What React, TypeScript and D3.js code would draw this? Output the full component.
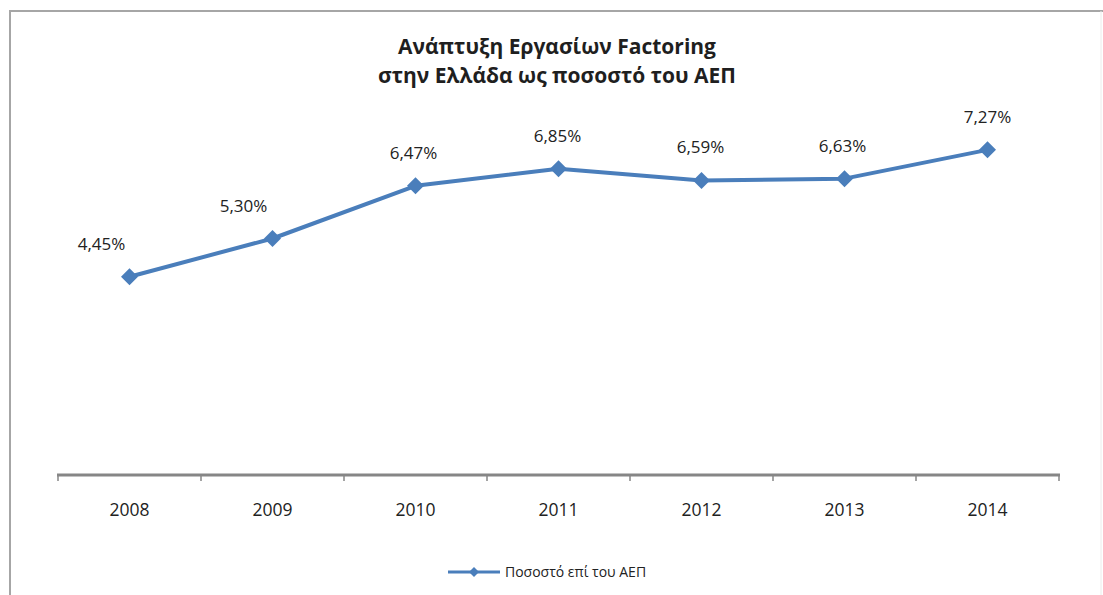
import React from "react";
import * as d3 from "d3";

const years = ["2008", "2009", "2010", "2011", "2012", "2013", "2014"];
const values = [4.45, 5.3, 6.47, 6.85, 6.59, 6.63, 7.27];
const labels = ["4,45%", "5,30%", "6,47%", "6,85%", "6,59%", "6,63%", "7,27%"];
const labelShift = [-28, -29, -2, -1, -1, -2, 0];
const titleLines = ["Ανάπτυξη Εργασίων Factoring", "στην Ελλάδα ως ποσοστό του ΑΕΠ"];
const legendLabel = "Ποσοστό επί του ΑΕΠ";

const W = 1103;
const H = 595;
const color = "#4A7EBB";
const font = "'Open Sans', 'DejaVu Sans', sans-serif";
const AXIS_Y = 475;

export default function App() {
  const x = d3.scaleBand<string>().domain(years).range([58, 1059]);
  const y = d3.scaleLinear().domain([0, 8]).range([477, 117]);
  const line = d3
    .line<number>()
    .x((_, i) => (x(years[i]) as number) + x.bandwidth() / 2)
    .y((d) => y(d));
  const diamond = (cx: number, cy: number, r: number) =>
    `M${cx},${cy - r}L${cx + r},${cy}L${cx},${cy + r}L${cx - r},${cy}Z`;
  const ticks = d3.range(years.length + 1).map((i) => 58 + i * x.step());

  return (
    <svg
      width={W}
      height={H}
      style={{ position: "absolute", left: 0, top: 0, background: "#fff" }}
    >
      <line x1={10} x2={W} y1={11} y2={11} stroke="#a6a6a6" strokeWidth={2} />
      <line x1={10} x2={10} y1={10} y2={H} stroke="#a6a6a6" strokeWidth={2} />
      <line x1={1101} x2={1101} y1={11} y2={H} stroke="#ececec" strokeWidth={1} />
      {titleLines.map((t, i) => (
        <text
          key={i}
          x={557}
          y={54 + i * 29}
          textAnchor="middle"
          fontFamily={font}
          fontWeight="bold"
          fontSize={21}
          fill="#1f1f1f"
        >
          {t}
        </text>
      ))}
      <line x1={57} x2={1060} y1={AXIS_Y} y2={AXIS_Y} stroke="#868686" strokeWidth={3} />
      {ticks.map((t, i) => (
        <line key={i} x1={t} x2={t} y1={AXIS_Y} y2={AXIS_Y + 6} stroke="#868686" strokeWidth={1.5} />
      ))}
      {years.map((yr) => (
        <text
          key={yr}
          x={(x(yr) as number) + x.bandwidth() / 2}
          y={516}
          textAnchor="middle"
          fontFamily={font}
          fontSize={17.5}
          fill="#222"
        >
          {yr}
        </text>
      ))}
      <path d={line(values) || ""} fill="none" stroke={color} strokeWidth={4} strokeLinejoin="round" />
      {values.map((v, i) => {
        const cx = (x(years[i]) as number) + x.bandwidth() / 2;
        return (
          <g key={i}>
            <path d={diamond(cx, y(v), 8.5)} fill={color} />
            <text
              x={cx + labelShift[i]}
              y={y(v) - 27}
              textAnchor="middle"
              fontFamily={font}
              fontSize={17}
              fill="#222"
            >
              {labels[i]}
            </text>
          </g>
        );
      })}
      <line x1={448} x2={500} y1={572} y2={572} stroke={color} strokeWidth={3} />
      <path d={diamond(474, 572, 5)} fill={color} />
      <text x={505} y={577} fontFamily={font} fontSize={14} fill="#222">
        {legendLabel}
      </text>
    </svg>
  );
}
